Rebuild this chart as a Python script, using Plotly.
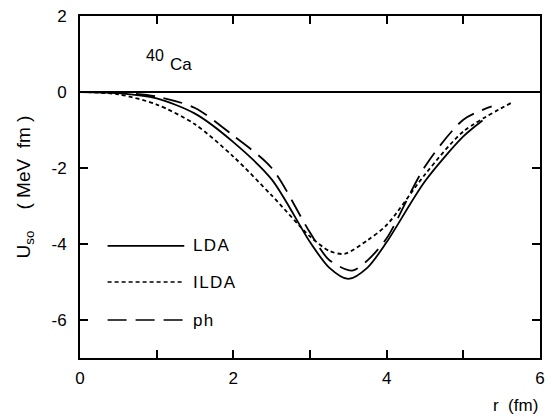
import plotly.graph_objects as go

# Data
lda_r = [0.0, 0.5, 1.0, 1.5, 2.0, 2.5, 3.0, 3.25, 3.5, 3.75, 4.0, 4.5, 5.0, 5.25]
lda_u = [0.0, -0.03, -0.17, -0.57, -1.32, -2.3, -3.95, -4.62, -4.92, -4.62, -3.95, -2.35, -1.17, -0.75]

ilda_r = [0.0, 0.5, 1.0, 1.5, 2.0, 2.5, 3.0, 3.25, 3.45, 3.75, 4.0, 4.5, 5.0, 5.65]
ilda_u = [0.0, -0.06, -0.33, -0.85, -1.7, -2.72, -3.8, -4.18, -4.26, -3.9, -3.5, -2.17, -1.04, -0.26]

ph_r = [0.0, 0.5, 1.0, 1.5, 2.0, 2.5, 3.0, 3.25, 3.55, 3.75, 4.0, 4.5, 5.0, 5.37]
ph_u = [0.0, -0.02, -0.12, -0.42, -1.15, -2.0, -3.7, -4.42, -4.7, -4.43, -3.85, -1.96, -0.73, -0.38]

series_names = ["LDA", "ILDA", "ph"]
x_tickvals = [0, 2, 4, 6]
x_ticktext = ["0", "2", "4", "6"]
y_tickvals = [-6, -4, -2, 0, 2]
y_ticktext = ["-6", "-4", "-2", "0", "2"]

FONT = "Liberation Sans, Arial, sans-serif"
dashes = ["solid", "4px,3px", "19px,9px"]
HAIR = "\u200a"

fig = go.Figure()
for name, r, u, d in zip(series_names, [lda_r, ilda_r, ph_r], [lda_u, ilda_u, ph_u], dashes):
    fig.add_trace(go.Scatter(x=r, y=u, mode="lines", name=name,
                             line=dict(color="black", width=1.8, dash=d, shape="spline", smoothing=0.8),
                             showlegend=False))

# Legend drawn inside the plot
leg_y = [-4.05, -5.0, -6.0]
for name, d, yy in zip(series_names, dashes, leg_y):
    fig.add_shape(type="line", x0=0.36, x1=1.36, y0=yy, y1=yy, xref="x", yref="y",
                  line=dict(color="black", width=1.6, dash=d))
    fig.add_annotation(x=1.45, y=yy, xref="x", yref="y", text=HAIR.join(name), showarrow=False,
                       xanchor="left", yanchor="middle",
                       font=dict(family=FONT, size=17, color="black"))

# 40Ca label (mass number raised, nearly full size as in the original)
fig.add_annotation(x=1.13, y=0.84, xref="x", yref="y", xshift=-1, yshift=5, text="40", showarrow=False,
                   xanchor="right", yanchor="middle", font=dict(family=FONT, size=16, color="black"))
fig.add_annotation(x=1.13, y=0.84, xref="x", yref="y", xshift=1, yshift=-4, text="Ca", showarrow=False,
                   xanchor="left", yanchor="middle", font=dict(family=FONT, size=17, color="black"))

fig.add_annotation(x=6.0, y=-7, xref="x", yref="y", yshift=-47, text="r  (fm)", showarrow=False,
                   xanchor="right", yanchor="middle", font=dict(family=FONT, size=17, color="black"))

axis_common = dict(showline=True, linecolor="black", linewidth=2, mirror="ticks",
                   ticks="inside", ticklen=8, tickwidth=1.5, tickcolor="black",
                   showgrid=False, tickfont=dict(family=FONT, size=17, color="black"))

fig.update_xaxes(range=[0, 6], tickvals=x_tickvals, ticktext=x_ticktext, zeroline=False,
                 ticklabelstandoff=4,
                 minor=dict(dtick=1, tick0=0, ticks="inside", ticklen=8, tickwidth=1.5,
                            tickcolor="black", showgrid=False),
                 **axis_common)
fig.update_yaxes(range=[-7, 2], tickvals=y_tickvals, ticktext=y_ticktext,
                 zeroline=True, zerolinecolor="black", zerolinewidth=1.5,
                 ticklabelstandoff=8,
                 title=dict(text="U<sub>so</sub>    ( MeV  fm )", font=dict(family=FONT, size=19, color="black"),
                            standoff=16),
                 **axis_common)

fig.update_layout(width=552, height=417, margin=dict(l=80, r=7, t=13, b=59),
                  paper_bgcolor="white", plot_bgcolor="white")

fig.write_html("out.html")
